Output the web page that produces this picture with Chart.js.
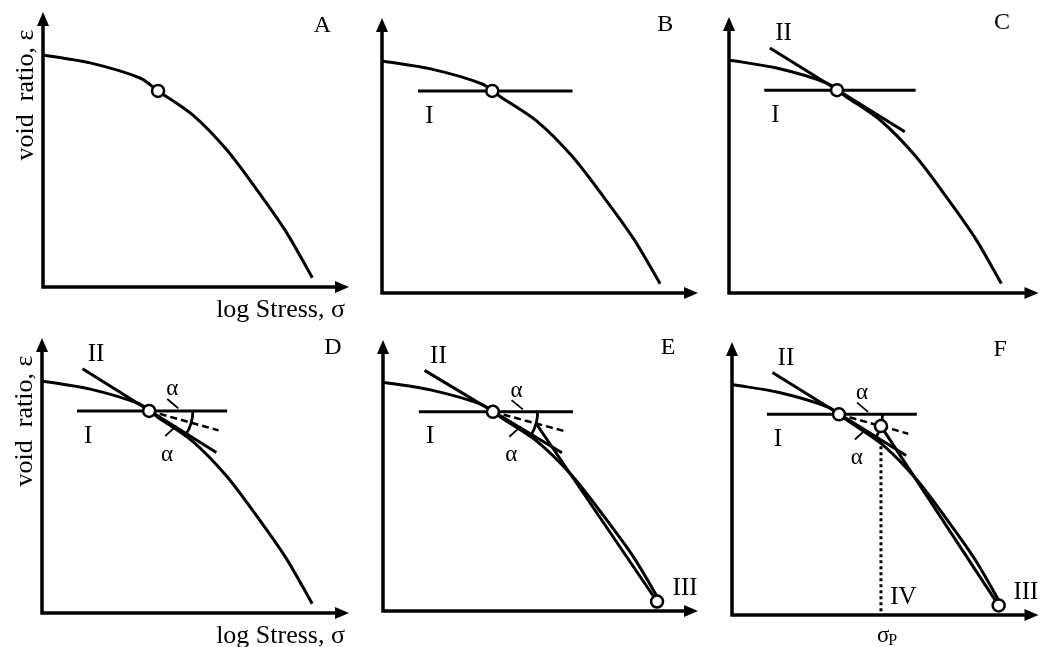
<!DOCTYPE html>
<html>
<head>
<meta charset="utf-8">
<title>Casagrande construction</title>
<script src="https://cdn.jsdelivr.net/npm/chart.js@4/dist/chart.umd.min.js"></script>
<style>
  html, body { margin: 0; padding: 0; background: #fff; }
  #wrap { position: relative; width: 1047px; height: 647px; overflow: hidden; }
  #wrap canvas { position: absolute; left: 0; top: 0; }
</style>
</head>
<body>
<div id="wrap"></div>
<script>
// Normalised axes: 0 at the origin, 100 at the arrow tips.
// Compression curve: void ratio against log stress
const curveStress = [0, 15.4, 31.7, 37.6, 49.0, 60.1, 69.9, 79.7, 88.0];
const curveVoid   = [84.4, 81.5, 76.0, 71.3, 62.5, 49.8, 35.3, 19.6, 3.4];

// Point of maximum curvature (first sketch) and the one used for the construction
const markStress = [37.6];
const markVoid   = [71.3];
const pointStress = [34.9];
const pointVoid   = [73.5];

// Line I: horizontal through the point
const lineIStress = [11.4, 60.3];
const lineIVoid   = [73.5, 73.5];

// Line II: tangent at the point
const lineIIStress = [13.2, 56.8];
const lineIIVoid   = [88.8, 58.4];

// Bisector of the angle between I and II
const bisectStress = [34.9, 57.5];
const bisectVoid   = [73.5, 66.4];

// Line III: extension of the virgin compression branch
const lineIIIStress = [87.0, 48.6];
const lineIIIVoid   = [3.5, 69.2];

// Angle marks on lines I and II
const tickUpStress = [40.8, 44.4];
const tickUpVoid   = [77.8, 74.4];
const tickLoStress = [40.1, 43.8];
const tickLoVoid   = [64.3, 68.1];

// Intersection of III with the bisector and the preconsolidation stress
const crossStress = [48.6];
const crossVoid   = [69.2];
const sigmaPStress = [48.6, 48.6];
const sigmaPVoid   = [64.0, 0];

const INK = '#000';
const SERIF = '"Liberation Serif", "Times New Roman", serif';
const W = 1047, H = 647;

const xy = (xs, ys) => xs.map((x, i) => ({ x, y: ys[i] }));

function lineSet(data, opts = {}) {
  return Object.assign({
    data, showLine: true, borderColor: INK, borderWidth: 3, pointRadius: 0,
    pointHoverRadius: 0, fill: false, tension: 0, clip: false, order: 5
  }, opts);
}
function circleSet(data) {
  return {
    data, showLine: false, pointRadius: 6, pointHoverRadius: 6, pointBorderWidth: 2.5,
    pointBackgroundColor: '#fff', pointBorderColor: INK, clip: false, order: 0
  };
}

// Panels: box = [left, top, right, bottom] of the axes in the page
const panels = [
  { name: 'A', box: [43, 12, 349, 287],  letter: [91.3, 94.9], step: 0, titles: true },
  { name: 'B', box: [382, 18, 698, 293], letter: [89.6, 97.5], step: 1 },
  { name: 'C', box: [729, 17, 1043, 293], letter: [88.2, 97.8], step: 2 },
  { name: 'D', box: [42, 338, 349, 613], letter: [94.8, 96.4], step: 3, titles: true },
  { name: 'E', box: [383, 340, 698, 611], letter: [90.5, 97.0], step: 4 },
  { name: 'F', box: [732, 342, 1045, 615], letter: [87.5, 97.1], step: 5 }
];

function buildDatasets(step) {
  const ds = [];
  ds.push(lineSet(xy(curveStress, curveVoid), { tension: 0.3, borderWidth: 3 }));
  if (step === 0) {
    ds.push(circleSet(xy(markStress, markVoid)));
    return ds;
  }
  ds.push(lineSet(xy(lineIStress, lineIVoid)));
  if (step >= 2) ds.push(lineSet(xy(lineIIStress, lineIIVoid)));
  if (step >= 3) {
    ds.push(lineSet(xy(bisectStress, bisectVoid), { borderWidth: 2.5, borderDash: [7, 4] }));
    ds.push(lineSet(xy(tickUpStress, tickUpVoid), { borderWidth: 1.8 }));
    ds.push(lineSet(xy(tickLoStress, tickLoVoid), { borderWidth: 1.8 }));
  }
  if (step >= 4) {
    ds.push(lineSet(xy(lineIIIStress, lineIIIVoid)));
    ds.push(circleSet(xy(lineIIIStress.slice(0, 1), lineIIIVoid.slice(0, 1))));
  }
  if (step >= 5) {
    ds.push(lineSet(xy(sigmaPStress, sigmaPVoid), { borderWidth: 3, borderDash: [3, 3] }));
    ds.push(circleSet(xy(crossStress, crossVoid)));
  }
  ds.push(circleSet(xy(pointStress, pointVoid)));
  return ds;
}

function buildLabels(p) {
  const L = [{ t: p.name, x: p.letter[0], y: p.letter[1], size: 24 }];
  if (p.step >= 1) L.push({ t: 'I', x: 15.0, y: 64.3, size: 25 });
  if (p.step >= 2) L.push({ t: 'II', x: 17.6, y: 93.9, size: 25 });
  if (p.step >= 3) {
    L.push({ t: 'α', x: 42.4, y: 81.3, size: 23 });
    L.push({ t: 'α', x: 40.7, y: 57.5, size: 23 });
  }
  if (p.step >= 4) L.push({ t: 'III', x: 95.9, y: 8.3, size: 25 });
  if (p.step >= 5) L.push({ t: 'IV', x: 55.9, y: 6.6, size: 25 });
  return L;
}

const decor = {
  id: 'decor',
  beforeDatasetsDraw(chart) {
    const cfg = chart.options.plugins.decor;
    const { ctx } = chart;
    const sx = chart.scales.x, sy = chart.scales.y;
    const x0 = sx.getPixelForValue(0), y0 = sy.getPixelForValue(0);
    const xEnd = sx.getPixelForValue(100), yEnd = sy.getPixelForValue(100);
    ctx.save();
    ctx.strokeStyle = INK; ctx.fillStyle = INK; ctx.lineWidth = 3.5; ctx.lineCap = 'butt';
    // axes
    ctx.beginPath();
    ctx.moveTo(x0, y0 + 1.75); ctx.lineTo(x0, yEnd + 10);
    ctx.moveTo(x0 - 1.75, y0); ctx.lineTo(xEnd - 10, y0);
    ctx.stroke();
    // arrow heads
    ctx.beginPath();
    ctx.moveTo(x0, yEnd); ctx.lineTo(x0 - 6, yEnd + 14); ctx.lineTo(x0 + 6, yEnd + 14); ctx.closePath();
    ctx.moveTo(xEnd, y0); ctx.lineTo(xEnd - 14, y0 - 6); ctx.lineTo(xEnd - 14, y0 + 6); ctx.closePath();
    ctx.fill();
    // angle arc between I and II, radius reaching the III/bisector crossing
    if (cfg.step >= 3) {
      const cx = sx.getPixelForValue(pointStress[0]), cy = sy.getPixelForValue(pointVoid[0]);
      const qx = sx.getPixelForValue(crossStress[0]), qy = sy.getPixelForValue(crossVoid[0]);
      const r = Math.hypot(qx - cx, qy - cy);
      const ax = sx.getPixelForValue(lineIIStress[1]) - sx.getPixelForValue(lineIIStress[0]);
      const ay = sy.getPixelForValue(lineIIVoid[1]) - sy.getPixelForValue(lineIIVoid[0]);
      ctx.lineWidth = 2.8;
      ctx.beginPath();
      ctx.arc(cx, cy, r, 0, Math.atan2(ay, ax), false);
      ctx.stroke();
    }
    ctx.restore();
  },
  afterDraw(chart) {
    const cfg = chart.options.plugins.decor;
    const { ctx, chartArea } = chart;
    const sx = chart.scales.x, sy = chart.scales.y;
    ctx.save();
    ctx.fillStyle = INK;
    ctx.textAlign = 'center'; ctx.textBaseline = 'middle';
    cfg.labels.forEach(l => {
      ctx.font = `${l.size}px ${SERIF}`;
      ctx.fillText(l.t, sx.getPixelForValue(l.x), sy.getPixelForValue(l.y));
    });
    if (cfg.titles) {
      ctx.font = `26px ${SERIF}`;
      ctx.textAlign = 'right'; ctx.textBaseline = 'alphabetic';
      ctx.fillText('log Stress, σ', chartArea.right - 4, chartArea.bottom + 30);
      ctx.save();
      ctx.translate(chartArea.left - 10, chartArea.top + 83);
      ctx.rotate(-Math.PI / 2);
      ctx.textAlign = 'center';
      ctx.fillText('void  ratio, ε', 0, 0);
      ctx.restore();
    }
    if (cfg.step >= 5) {
      const px = sx.getPixelForValue(sigmaPStress[0]) - 4;
      const py = chartArea.bottom + 27;
      ctx.textAlign = 'left'; ctx.textBaseline = 'alphabetic';
      ctx.font = `23px ${SERIF}`;
      ctx.fillText('σ', px, py);
      const w = ctx.measureText('σ').width;
      ctx.font = `16px ${SERIF}`;
      ctx.fillText('P', px + w - 1, py + 3);
    }
    ctx.restore();
  }
};

const wrap = document.getElementById('wrap');
panels.forEach(p => {
  const cv = document.createElement('canvas');
  cv.width = W; cv.height = H;
  cv.style.width = W + 'px'; cv.style.height = H + 'px';
  wrap.appendChild(cv);
  const [l, t, r, b] = p.box;
  new Chart(cv, {
    type: 'scatter',
    data: { datasets: buildDatasets(p.step) },
    plugins: [decor],
    options: {
      responsive: false,
      animation: false,
      devicePixelRatio: 1,
      events: [],
      layout: { padding: { left: l, top: t, right: W - r, bottom: H - b } },
      scales: {
        x: { type: 'linear', min: 0, max: 100, display: false },
        y: { type: 'linear', min: 0, max: 100, display: false }
      },
      plugins: {
        legend: { display: false },
        tooltip: { enabled: false },
        decor: { step: p.step, titles: !!p.titles, labels: buildLabels(p) }
      }
    }
  });
});
</script>
</body>
</html>
